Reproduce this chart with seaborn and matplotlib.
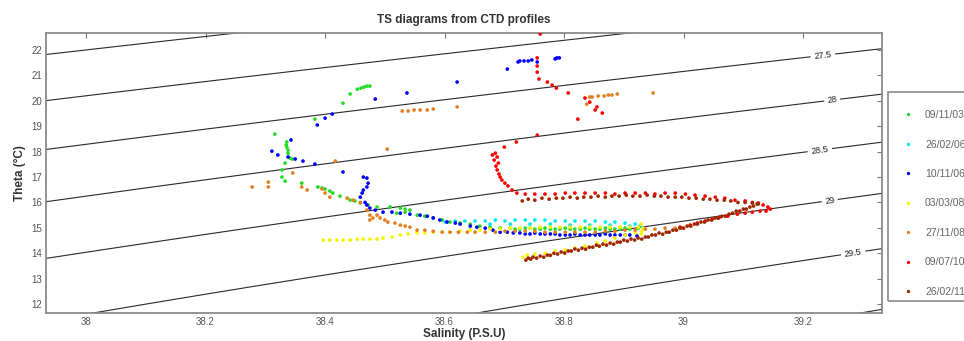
import numpy as np
import pandas as pd
import matplotlib
matplotlib.use("Agg")
import matplotlib.pyplot as plt
from matplotlib.lines import Line2D
from matplotlib.patches import Rectangle
import seaborn as sns

# ---------------------------------------------------------------- data
dates = ["09/11/03", "26/02/06", "10/11/06", "03/03/08", "27/11/08", "09/07/10", "26/02/11"]
colors = ["#22dd22", "#00e8f0", "#0000ff", "#f5f500", "#e08020", "#ff0000", "#a02800"]

sal_0911 = [38.475, 38.470, 38.465, 38.460, 38.454, 38.442, 38.430, 38.383, 38.316, 38.336,
            38.335, 38.336, 38.338, 38.338, 38.341, 38.345, 38.333, 38.328, 38.328, 38.333,
            38.361, 38.388, 38.395, 38.400, 38.408, 38.413, 38.425, 38.442, 38.450, 38.459,
            38.472, 38.487, 38.509, 38.526, 38.534, 38.542, 38.520, 38.534, 38.554, 38.567,
            38.581, 38.596, 38.609, 38.626, 38.643, 38.659, 38.676, 38.693, 38.710, 38.718,
            38.726, 38.735, 38.743, 38.751, 38.760, 38.768, 38.777, 38.785, 38.793, 38.802,
            38.810, 38.818, 38.827, 38.835, 38.843, 38.852, 38.860, 38.869, 38.877, 38.885,
            38.894, 38.902, 38.910, 38.924]
theta_0911 = [20.58, 20.58, 20.54, 20.50, 20.46, 20.27, 19.91, 19.28, 18.69, 18.38,
              18.26, 18.18, 18.06, 17.94, 17.75, 17.71, 17.55, 17.28, 17.00, 16.84,
              16.76, 16.61, 16.57, 16.53, 16.45, 16.37, 16.25, 16.09, 16.06, 15.98,
              15.90, 15.82, 15.82, 15.78, 15.74, 15.70, 15.58, 15.62, 15.50, 15.46,
              15.39, 15.31, 15.23, 15.19, 15.15, 15.07, 15.03, 14.99, 14.99, 14.95,
              14.95, 14.99, 14.99, 14.95, 14.95, 14.99, 14.95, 14.95, 14.95, 14.99,
              14.95, 14.95, 14.95, 14.99, 14.95, 14.95, 14.95, 14.99, 14.95, 14.95,
              14.95, 14.99, 14.95, 14.99]

sal_2602a = [38.601, 38.618, 38.634, 38.651, 38.668, 38.685, 38.701, 38.718, 38.735, 38.751,
             38.768, 38.785, 38.802, 38.818, 38.835, 38.852, 38.869, 38.885, 38.902, 38.919,
             38.927, 38.676, 38.710, 38.743, 38.777, 38.810, 38.843, 38.877, 38.910]
theta_2602a = [15.23, 15.27, 15.27, 15.27, 15.27, 15.31, 15.27, 15.31, 15.31, 15.31,
               15.31, 15.27, 15.27, 15.27, 15.27, 15.27, 15.23, 15.23, 15.19, 15.15,
               15.07, 15.15, 15.15, 15.15, 15.15, 15.11, 15.11, 15.11, 15.07]

sal_1011 = [38.788, 38.792, 38.785, 38.755, 38.746, 38.740, 38.733, 38.726, 38.723, 38.705,
            38.621, 38.537, 38.484, 38.412, 38.400, 38.387, 38.343, 38.311, 38.321, 38.338,
            38.350, 38.363, 38.383, 38.430, 38.464, 38.470, 38.472, 38.470, 38.464, 38.462,
            38.459, 38.467, 38.470, 38.475, 38.484, 38.497, 38.512, 38.526, 38.542, 38.559,
            38.571, 38.581, 38.592, 38.604, 38.618, 38.626, 38.643, 38.654, 38.668, 38.681,
            38.693, 38.705, 38.715, 38.726, 38.735, 38.743, 38.751, 38.760, 38.768, 38.777,
            38.785, 38.793, 38.802, 38.810, 38.818, 38.827, 38.835, 38.843, 38.852, 38.860,
            38.869, 38.877, 38.885, 38.894, 38.902, 38.910, 38.922]
theta_1011 = [21.69, 21.69, 21.65, 21.53, 21.61, 21.57, 21.57, 21.57, 21.53, 21.25,
              20.74, 20.31, 20.07, 19.48, 19.32, 19.05, 18.46, 18.02, 17.87, 17.79,
              17.71, 17.63, 17.51, 17.20, 17.00, 16.96, 16.76, 16.61, 16.49, 16.37,
              16.21, 16.00, 15.90, 15.78, 15.70, 15.62, 15.62, 15.58, 15.54, 15.50,
              15.46, 15.39, 15.31, 15.23, 15.19, 15.15, 15.07, 15.03, 14.99, 14.91,
              14.83, 14.83, 14.80, 14.80, 14.76, 14.76, 14.80, 14.76, 14.76, 14.76,
              14.76, 14.72, 14.72, 14.72, 14.76, 14.72, 14.72, 14.72, 14.72, 14.72,
              14.76, 14.72, 14.72, 14.72, 14.72, 14.72, 14.68]

sal_0303 = [38.397, 38.408, 38.420, 38.430, 38.442, 38.454, 38.464, 38.475, 38.487, 38.497,
            38.512, 38.526, 38.539, 38.554, 38.567, 38.581, 38.596, 38.609, 38.626, 38.643,
            38.659, 38.676, 38.693, 38.710, 38.726, 38.743, 38.760, 38.777, 38.793, 38.810,
            38.827, 38.843, 38.860, 38.877, 38.894, 38.910, 38.924, 38.929, 38.932, 38.930,
            38.929, 38.919, 38.902, 38.885, 38.869, 38.855, 38.835, 38.818, 38.802, 38.785,
            38.768, 38.751, 38.738, 38.731]
theta_0303 = [14.52, 14.52, 14.52, 14.52, 14.52, 14.56, 14.56, 14.56, 14.56, 14.60,
              14.64, 14.72, 14.76, 14.80, 14.80, 14.83, 14.83, 14.83, 14.87, 14.91,
              14.91, 14.95, 14.95, 14.99, 14.99, 14.99, 15.03, 15.03, 15.03, 15.03,
              15.03, 15.03, 15.03, 15.03, 15.03, 15.03, 15.03, 15.15, 14.99, 14.87,
              14.76, 14.80, 14.72, 14.60, 14.48, 14.40, 14.28, 14.20, 14.13, 14.09,
              14.00, 13.97, 13.93, 13.85]

sal_2711 = [38.949, 38.889, 38.880, 38.874, 38.867, 38.857, 38.847, 38.843, 38.838, 38.621,
            38.581, 38.571, 38.559, 38.549, 38.539, 38.529, 38.504, 38.417, 38.346, 38.305,
            38.278, 38.305, 38.361, 38.370, 38.395, 38.400, 38.408, 38.437, 38.447, 38.459,
            38.470, 38.475, 38.480, 38.487, 38.492, 38.475, 38.500, 38.505, 38.517, 38.526,
            38.534, 38.542, 38.554, 38.567, 38.581, 38.596, 38.609, 38.623, 38.638, 38.651,
            38.668, 38.685, 38.701, 38.718, 38.735, 38.751, 38.768, 38.785, 38.802, 38.818,
            38.835, 38.852, 38.869, 38.885, 38.902, 38.919, 38.936, 38.952, 38.969, 38.986,
            38.997]
theta_2711 = [20.31, 20.27, 20.23, 20.23, 20.19, 20.19, 20.15, 20.15, 19.87, 19.76,
              19.68, 19.64, 19.64, 19.64, 19.60, 19.60, 18.10, 17.63, 17.16, 16.80,
              16.61, 16.61, 16.61, 16.49, 16.53, 16.37, 16.21, 16.17, 16.09, 16.00,
              15.70, 15.50, 15.39, 15.50, 15.39, 15.31, 15.31, 15.23, 15.19, 15.11,
              15.07, 15.03, 14.91, 14.91, 14.87, 14.83, 14.83, 14.83, 14.83, 14.83,
              14.83, 14.83, 14.87, 14.87, 14.87, 14.87, 14.83, 14.83, 14.83, 14.83,
              14.83, 14.83, 14.87, 14.87, 14.91, 14.91, 14.95, 14.95, 14.99, 14.99,
              14.99]

sal_0907 = [38.760, 38.755, 38.755, 38.755, 38.758, 38.772, 38.780, 38.787, 38.807, 38.835,
            38.843, 38.855, 38.852, 38.864, 38.823, 38.755, 38.720, 38.700, 38.685, 38.680,
            38.688, 38.683, 38.690, 38.686, 38.688, 38.691, 38.693, 38.696, 38.701, 38.706,
            38.713, 38.721, 38.735, 38.751, 38.768, 38.785, 38.802, 38.818, 38.835, 38.852,
            38.869, 38.885, 38.902, 38.919, 38.936, 38.952, 38.969, 38.986, 39.003, 39.019,
            39.036, 39.053, 39.069, 39.086, 39.103, 39.115, 39.125, 39.133, 39.141, 39.145,
            39.138, 39.128, 39.115, 39.103, 39.090, 39.074, 39.061, 39.048, 39.036, 39.023,
            39.011, 38.994]
theta_0907 = [22.63, 21.69, 21.37, 21.13, 20.86, 20.74, 20.62, 20.50, 20.31, 20.11,
              19.95, 19.76, 19.64, 19.52, 19.28, 18.65, 18.38, 18.18, 17.94, 17.87,
              17.79, 17.67, 17.55, 17.43, 17.28, 17.12, 17.00, 16.88, 16.76, 16.65,
              16.49, 16.37, 16.33, 16.33, 16.33, 16.33, 16.37, 16.37, 16.37, 16.37,
              16.37, 16.33, 16.37, 16.37, 16.37, 16.33, 16.37, 16.37, 16.33, 16.29,
              16.25, 16.21, 16.17, 16.09, 16.06, 16.00, 15.98, 15.90, 15.82, 15.74,
              15.66, 15.66, 15.62, 15.58, 15.54, 15.46, 15.43, 15.35, 15.27, 15.19,
              15.11, 15.03]

sal_2602b = [38.730, 38.740, 38.751, 38.763, 38.775, 38.787, 38.798, 38.810, 38.822, 38.833,
             38.845, 38.857, 38.869, 38.880, 38.892, 38.904, 38.915, 38.927, 38.939, 38.951,
             38.962, 38.974, 38.986, 38.997, 39.009, 39.021, 39.033, 39.044, 39.056, 39.068,
             39.079, 39.091, 39.103, 39.115, 39.125,
             39.123, 39.111, 39.100, 39.088, 39.076, 39.064, 39.053, 39.041, 39.029, 39.018,
             39.006, 38.994, 38.982, 38.971, 38.959, 38.947, 38.936, 38.924, 38.912, 38.900,
             38.889, 38.877, 38.865, 38.854, 38.842, 38.830, 38.818, 38.807, 38.795, 38.783,
             38.772, 38.760, 38.748, 38.740,
             39.117, 39.105, 39.094, 39.082, 39.070, 39.058, 39.047, 39.035, 39.023, 39.012,
             39.000, 38.988, 38.976, 38.965, 38.953, 38.941, 38.930, 38.918, 38.906, 38.894,
             38.883, 38.871, 38.859, 38.848, 38.836, 38.824, 38.812, 38.801, 38.789, 38.777,
             38.766, 38.754, 38.744, 38.736]
theta_2602b = [16.06, 16.13, 16.09, 16.17, 16.13, 16.17, 16.17, 16.21, 16.17, 16.21,
               16.21, 16.25, 16.21, 16.25, 16.25, 16.29, 16.25, 16.25, 16.29, 16.25,
               16.25, 16.21, 16.21, 16.21, 16.17, 16.17, 16.13, 16.13, 16.09, 16.09,
               16.06, 16.00, 16.00, 15.98, 15.94,
               15.94, 15.82, 15.74, 15.66, 15.54, 15.46, 15.39, 15.31, 15.23, 15.15,
               15.07, 14.99, 14.91, 14.83, 14.80, 14.72, 14.64, 14.60, 14.56, 14.52,
               14.44, 14.40, 14.36, 14.32, 14.24, 14.20, 14.17, 14.09, 14.05, 14.00,
               13.93, 13.89, 13.85, 13.81,
               15.86, 15.74, 15.66, 15.58, 15.46, 15.38, 15.31, 15.23, 15.15, 15.07,
               14.99, 14.91, 14.83, 14.75, 14.72, 14.64, 14.56, 14.52, 14.48, 14.44,
               14.36, 14.32, 14.28, 14.24, 14.16, 14.12, 14.09, 14.01, 13.97, 13.92,
               13.85, 13.81, 13.77, 13.73]

profiles = [
    (sal_0911, theta_0911),
    (sal_2602a, theta_2602a),
    (sal_1011, theta_1011),
    (sal_0303, theta_0303),
    (sal_2711, theta_2711),
    (sal_0907, theta_0907),
    (sal_2602b, theta_2602b),
]

plain_levels = [26.5, 27.0, 30.0]
labelled_levels = [27.5, 28.0, 28.5, 29.0, 29.5]
label_spots = [(39.233, 21.80), (39.249, 19.95), (39.228, 18.06), (39.245, 16.00), (39.284, 13.97)]

sal_ticks = [38.0, 38.2, 38.4, 38.6, 38.8, 39.0, 39.2]
sal_ticklabels = ["38", "38.2", "38.4", "38.6", "38.8", "39", "39.2"]
theta_ticks = list(range(12, 23))


def sigma_theta(s, t):
    """Potential density anomaly (UNESCO EOS-80 at surface pressure)."""
    rho_w = (999.842594 + 6.793952e-2 * t - 9.095290e-3 * t ** 2 + 1.001685e-4 * t ** 3
             - 1.120083e-6 * t ** 4 + 6.536332e-9 * t ** 5)
    b = 8.24493e-1 - 4.0899e-3 * t + 7.6438e-5 * t ** 2 - 8.2467e-7 * t ** 3 + 5.3875e-9 * t ** 4
    c = -5.72466e-3 + 1.0227e-4 * t - 1.6546e-6 * t ** 2
    d = 4.8314e-4
    return rho_w + b * s + c * s ** 1.5 + d * s ** 2 - 1000.0


rows = []
for date, (s, t) in zip(dates, profiles):
    for si, ti in zip(s, t):
        rows.append((date, si, ti))
df = pd.DataFrame(rows, columns=["date", "salinity", "theta"])

# ---------------------------------------------------------------- figure
sns.set_theme(style="white")
plt.rcParams["font.family"] = ["Liberation Sans", "DejaVu Sans"]

fig = plt.figure(figsize=(9.64, 3.41), dpi=100)
ax = fig.add_axes([46 / 964, 1 - 313 / 341, 836 / 964, 280 / 341])

# isopycnals
sg, tg = np.meshgrid(np.linspace(37.85, 39.45, 200), np.linspace(11.0, 23.5, 200))
sig = sigma_theta(sg, tg)
line_style = dict(colors="#2a2a2a", linewidths=0.8, zorder=1)
ax.contour(sg, tg, sig, levels=plain_levels, **line_style)
cs = ax.contour(sg, tg, sig, levels=labelled_levels, **line_style)
ax.clabel(cs, manual=label_spots, inline=True, inline_spacing=2, fontsize=6.5,
          colors="#222222", fmt=lambda v: f"{v:g}")

sns.scatterplot(data=df, x="salinity", y="theta", hue="date", hue_order=dates,
                palette=dict(zip(dates, colors)), s=7, linewidth=0, marker="o",
                legend=False, ax=ax, zorder=3)

ax.set_xlim(37.933, 39.332)
ax.set_ylim(11.65, 22.67)
ax.set_xticks(sal_ticks)
ax.set_xticklabels(sal_ticklabels)
ax.set_yticks(theta_ticks)
ax.tick_params(direction="in", top=True, right=True, length=3.5, width=0.8,
               color="#777777", labelsize=7, labelcolor="#555555", pad=3)
for sp in ax.spines.values():
    sp.set_color("#8a8a8a")
    sp.set_linewidth(1.3)

ax.set_xlabel("Salinity (P.S.U)", fontsize=8.5, fontweight="bold", color="#333333", va="center")
ax.xaxis.set_label_coords(0.5, -(334 - 313) / 280)
ax.set_ylabel("Theta (°C)", fontsize=8.5, fontweight="bold", color="#333333", va="center")
ax.yaxis.set_label_coords(-(46 - 20) / 836, (313 - 173) / 280)
fig.text(464 / 964, 1 - 20 / 341, "TS diagrams from CTD profiles", ha="center", va="center",
         fontsize=8.5, fontweight="bold", color="#333333")

# legend outside on the right
handles = [Line2D([], [], ls="none", marker="o", ms=2.4, mew=0, color=c) for c in colors]
leg = ax.legend(handles, dates, loc="center left",
                bbox_to_anchor=((902.8 - 46) / 836, (313 - 203.5) / 280),
                frameon=False, fontsize=7.5, labelspacing=1.87, handlelength=1.0,
                handletextpad=1.13, borderpad=0, borderaxespad=0)
for txt in leg.get_texts():
    txt.set_color("#666666")
fig.patches.append(Rectangle((888 / 964, 1 - 301 / 341), 0.2, (301 - 92) / 341,
                             transform=fig.transFigure, fill=False,
                             edgecolor="#8a8a8a", linewidth=1.2))

fig.savefig("out.png", dpi=100, facecolor="white")
